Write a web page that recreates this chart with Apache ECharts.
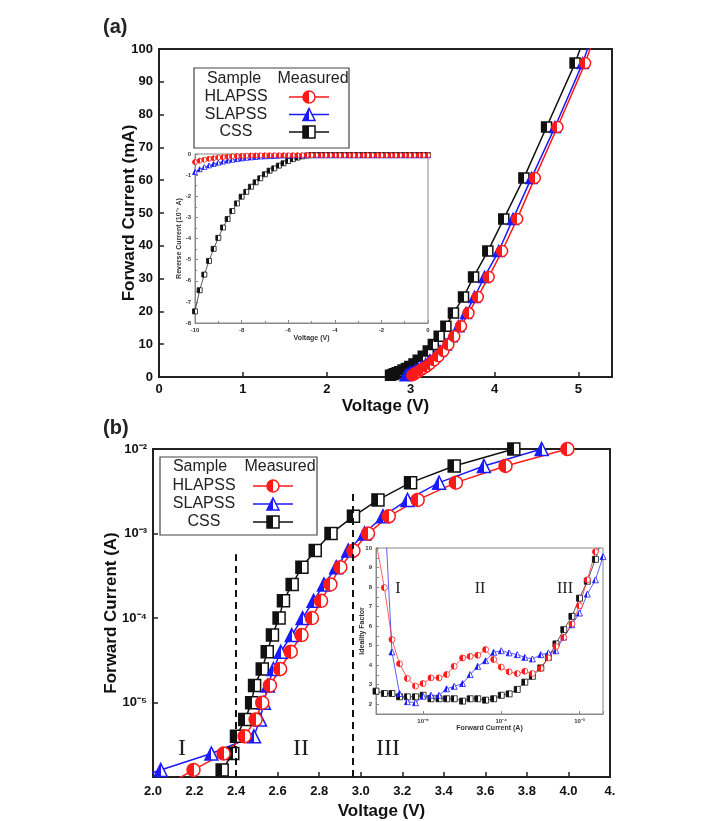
<!DOCTYPE html>
<html>
<head>
<meta charset="utf-8">
<script src="https://cdn.jsdelivr.net/npm/echarts@6/dist/echarts.min.js"></script>
<style>
html,body{margin:0;padding:0;background:#fff}
#main{width:717px;height:821px}
</style>
</head>
<body>
<div id="main"></div>
<script>
// ---- (a) forward I-V, linear (mA) ----
var curA  = [0.5,0.8,1.0,1.3,1.6,2.1,2.6,3.2,4.0,5.1,6.3,7.9,9.9,12.4,15.5,19.5,24.4,30.5,38.4,48.2,60.7,76.2,95.7,120];
var vCssA = [2.76,2.79,2.81,2.84,2.87,2.91,2.95,2.99,3.04,3.09,3.15,3.21,3.27,3.34,3.42,3.51,3.63,3.75,3.92,4.11,4.35,4.62,4.96,5.30];
var vSlaA = [2.94,2.96,2.98,3.00,3.03,3.06,3.09,3.13,3.18,3.23,3.29,3.35,3.42,3.49,3.57,3.66,3.76,3.88,4.05,4.22,4.44,4.72,5.05,5.38];
var vHlaA = [3.02,3.04,3.05,3.07,3.09,3.12,3.15,3.19,3.23,3.28,3.33,3.39,3.45,3.52,3.60,3.69,3.80,3.93,4.09,4.27,4.48,4.75,5.08,5.41];

// ---- (a) inset: reverse current (1e-7 A) ----
var vRev = [-10,-9.8,-9.6,-9.4,-9.2,-9,-8.8,-8.6,-8.4,-8.2,-8,-7.8,-7.6,-7.4,-7.2,-7,-6.8,-6.6,-6.4,-6.2,-6,-5.8,-5.6,-5.4,-5.2,-5,
            -4.8,-4.6,-4.4,-4.2,-4,-3.8,-3.6,-3.4,-3.2,-3,-2.8,-2.6,-2.4,-2.2,-2,-1.8,-1.6,-1.4,-1.2,-1,-0.8,-0.6,-0.4,-0.2,0];
var iRevCss = [-7.45,-6.45,-5.71,-5.06,-4.49,-3.97,-3.48,-3.08,-2.70,-2.34,-2.02,-1.79,-1.55,-1.34,-1.15,-0.96,-0.79,-0.68,-0.55,-0.44,-0.33,-0.24,-0.17,-0.11,-0.07,-0.05,
               -0.05,-0.05,-0.05,-0.05,-0.05,-0.05,-0.05,-0.05,-0.05,-0.05,-0.05,-0.05,-0.05,-0.05,-0.05,-0.05,-0.05,-0.05,-0.05,-0.05,-0.05,-0.05,-0.05,-0.05,-0.05];
var iRevSla = [-0.85,-0.72,-0.62,-0.54,-0.47,-0.41,-0.36,-0.31,-0.27,-0.24,-0.21,-0.18,-0.16,-0.14,-0.12,-0.11,-0.10,-0.09,-0.08,-0.07,-0.07,-0.06,-0.06,-0.06,-0.06,-0.06,
               -0.06,-0.06,-0.06,-0.06,-0.06,-0.06,-0.06,-0.06,-0.06,-0.06,-0.06,-0.06,-0.06,-0.06,-0.06,-0.06,-0.06,-0.06,-0.06,-0.06,-0.06,-0.06,-0.06,-0.06,-0.06];
var iRevHla = [-0.38,-0.32,-0.27,-0.23,-0.20,-0.17,-0.15,-0.13,-0.11,-0.10,-0.09,-0.08,-0.07,-0.07,-0.06,-0.06,-0.06,-0.06,-0.06,-0.06,-0.06,-0.06,-0.06,-0.06,-0.06,-0.06,
               -0.06,-0.06,-0.06,-0.06,-0.06,-0.06,-0.06,-0.06,-0.06,-0.06,-0.06,-0.06,-0.06,-0.06,-0.06,-0.06,-0.06,-0.06,-0.06,-0.06,-0.06,-0.06,-0.06,-0.06,-0.06];

// ---- (b) forward I-V, log (A) ----
var curB  = [1e-6,1.6e-6,2.5e-6,4e-6,6.3e-6,1e-5,1.6e-5,2.5e-5,4e-5,6.3e-5,1e-4,1.6e-4,2.5e-4,4e-4,6.3e-4,1e-3,1.6e-3,2.5e-3,4e-3,6.3e-3,1e-2];
var vCssB = [2.28,2.333,2.384,2.402,2.442,2.475,2.489,2.526,2.55,2.575,2.607,2.628,2.67,2.717,2.781,2.857,2.965,3.083,3.24,3.45,3.737];
var vSlaB = [1.79,2.037,2.281,2.486,2.515,2.534,2.553,2.58,2.615,2.668,2.72,2.773,2.823,2.882,2.94,3.018,3.107,3.225,3.377,3.593,3.871];
var vHlaB = [2.05,2.195,2.34,2.441,2.494,2.526,2.563,2.612,2.663,2.715,2.765,2.809,2.854,2.902,2.965,3.035,3.135,3.274,3.458,3.697,3.995];
var regionB = [2.4, 2.96];

// ---- (b) inset: ideality factor vs forward current ----
var curN = [2.5e-6,3.2e-6,4e-6,5e-6,6.3e-6,8e-6,1e-5,1.26e-5,1.6e-5,2e-5,2.5e-5,3.2e-5,4e-5,5e-5,6.3e-5,8e-5,1e-4,1.26e-4,1.6e-4,2e-4,2.5e-4,3.2e-4,4e-4,5e-4,6.3e-4,8e-4,1e-3,1.26e-3,1.6e-3,2e-3];
var nHla = [10.3,7.97,5.31,4.07,3.32,2.93,3.06,3.35,3.35,3.52,3.94,4.37,4.45,4.51,4.8,4.29,3.9,3.66,3.57,3.69,3.57,3.83,4.37,4.96,5.42,6.11,7.04,8.37,9.81,11.2];
var nSla = [15,12.3,4.68,2.55,2.13,2.08,2.41,2.46,2.46,2.79,2.92,3.06,3.52,3.94,4.23,4.66,4.74,4.63,4.54,4.4,4.32,4.54,4.63,4.74,5.44,6.07,6.67,7.64,8.37,9.56];
var nCss = [2.67,2.55,2.55,2.38,2.38,2.38,2.46,2.28,2.28,2.28,2.28,2.16,2.28,2.28,2.21,2.28,2.46,2.53,2.76,3.13,3.43,3.86,4.4,5.09,5.82,6.5,7.43,8.3,9.42,10.6];
var regionN = [6.3e-6, 4e-4];

var RED = '#ff1a1a', BLUE = '#1a1aff', BLACK = '#111';
var FONT = 'Liberation Sans, Arial, sans-serif';
var SERIF = 'Liberation Serif, DejaVu Serif, serif';

var halfFill = function(c){
	return {type:'linear', x:0, y:0, x2:1, y2:0, colorStops:[
		{offset:0, color:c},{offset:0.5, color:c},{offset:0.5, color:'#fff'},{offset:1, color:'#fff'}]};
};
var pairs = function(xs, ys){
	var out = [];
	for (var i = 0; i < xs.length; i++) out.push([xs[i], ys[i]]);
	return out;
};
var sup = function(n){
	var m = {'-':'\u207b','0':'\u2070','1':'\u00b9','2':'\u00b2','3':'\u00b3','4':'\u2074','5':'\u2075','6':'\u2076','7':'\u2077','8':'\u2078','9':'\u2079'};
	return String(n).split('').map(function(c){ return m[c]; }).join('');
};
var powLabel = function(v){
	var e = Math.log10(v), r = Math.round(e);
	if (Math.abs(e - r) > 1e-6) return '';
	return '10' + sup(r);
};
var line = function(name, color, symbol, data, gi, size, lw){
	return {
		name: name, type: 'line', xAxisIndex: gi, yAxisIndex: gi,
		data: data, symbol: symbol, symbolSize: size, clip: true,
		lineStyle: {color: color, width: lw},
		itemStyle: {color: halfFill(color), borderColor: color, borderWidth: lw < 1 ? 0.8 : 1.5},
		emphasis: {disabled: true}
	};
};

var mainAxis = function(o){
	var a = {
		type: 'value', nameLocation: 'middle', nameMoveOverlap: false,
		nameTextStyle: {fontFamily: FONT, fontSize: 17, fontWeight: 'bold', color: '#111'},
		axisLine: {onZero: false, lineStyle: {color: '#222', width: 2}},
		axisTick: {inside: true, length: 5, lineStyle: {color: '#222', width: 1.5}},
		axisLabel: {fontFamily: FONT, fontSize: 13, fontWeight: 'bold', color: '#111'},
		splitLine: {show: false}
	};
	for (var k in o) a[k] = o[k];
	return a;
};
var insetAxis = function(o){
	var a = {
		type: 'value', nameLocation: 'middle', nameMoveOverlap: false,
		nameTextStyle: {fontFamily: FONT, fontSize: 7, fontWeight: 'bold', color: '#333'},
		axisLine: {onZero: false, lineStyle: {color: '#888', width: 1}},
		axisTick: {inside: true, length: 3, lineStyle: {color: '#888'}},
		axisLabel: {fontFamily: FONT, fontSize: 6, fontWeight: 'bold', color: '#333', margin: 4},
		splitLine: {show: false}
	};
	for (var k in o) a[k] = o[k];
	return a;
};

var legendItems = function(){
	return [
		{name: 'HLAPSS', itemStyle: {color: halfFill(RED), borderColor: RED, borderWidth: 1.5}, lineStyle: {color: RED, width: 1.5}},
		{name: 'SLAPSS', itemStyle: {color: halfFill(BLUE), borderColor: BLUE, borderWidth: 1.5}, lineStyle: {color: BLUE, width: 1.5}},
		{name: 'CSS', itemStyle: {color: halfFill(BLACK), borderColor: BLACK, borderWidth: 1.5}, lineStyle: {color: BLACK, width: 1.5}}
	];
};
var legendOf = function(left, top, w, gap){
	return {
		data: legendItems(), orient: 'vertical', align: 'right',
		left: left, top: top, padding: 0, itemWidth: 40, itemHeight: 15, itemGap: gap,
		selectedMode: false,
		formatter: function(n){ return '{n|' + n + '}'; },
		textStyle: {rich: {n: {width: w, align: 'center', fontFamily: FONT, fontSize: 16, lineHeight: 18, color: '#222'}}}
	};
};

var txt = function(x, y, s, size, font, align, weight){
	return {type: 'text', x: x, y: y, style: {text: s, fontFamily: font || FONT, fontSize: size,
		fontWeight: weight || 'normal', fill: '#222', align: align || 'center', verticalAlign: 'middle'}};
};

var myChart = echarts.init(document.getElementById('main'));
var option = {
	animation: false,
	backgroundColor: '#fff',
	grid: [
		{left: 159, top: 49, width: 453, height: 328, show: true, borderColor: '#222', borderWidth: 2},
		{left: 195, top: 154, width: 233, height: 169, show: true, backgroundColor: '#fff', borderColor: '#888', borderWidth: 1},
		{left: 153, top: 449, width: 457, height: 331, show: true, borderColor: '#222', borderWidth: 2},
		{left: 376, top: 548, width: 227, height: 166, show: true, backgroundColor: '#fff', borderColor: '#888', borderWidth: 1}
	],
	xAxis: [
		mainAxis({gridIndex: 0, min: 0, max: 5.4, interval: 1, name: 'Voltage (V)', nameGap: 21,
			axisLabel: {fontFamily: FONT, fontSize: 13, fontWeight: 'bold', color: '#111', margin: 6, showMaxLabel: false}}),
		insetAxis({gridIndex: 1, min: -10, max: 0, interval: 2, name: 'Voltage (V)', nameGap: 12,
			minorTick: {show: true, splitNumber: 2, length: 2, lineStyle: {color: '#888'}}}),
		mainAxis({gridIndex: 2, min: 2.0, max: 4.2, interval: 0.2, name: 'Voltage (V)', nameGap: 26,
			axisLabel: {fontFamily: FONT, fontSize: 13, fontWeight: 'bold', color: '#111', margin: 8,
				formatter: function(v){ var s = v.toFixed(1); return s === '4.2' ? '4.' : s; }}}),
		insetAxis({gridIndex: 3, type: 'log', logBase: 10, min: 2.5e-6, max: 2e-3, name: 'Forward Current (A)', nameGap: 11,
			axisLabel: {fontFamily: FONT, fontSize: 6, fontWeight: 'bold', color: '#333', margin: 4, formatter: powLabel}})
	],
	yAxis: [
		mainAxis({gridIndex: 0, min: 0, max: 100, interval: 10, name: 'Forward Current (mA)', nameGap: 21,
			axisLabel: {fontFamily: FONT, fontSize: 13, fontWeight: 'bold', color: '#111', margin: 6}}),
		insetAxis({gridIndex: 1, min: -8, max: 0, interval: 1, name: 'Reverse Current (10\u207b\u2077 A)', nameGap: 12,
			minorTick: {show: true, splitNumber: 2, length: 2, lineStyle: {color: '#888'}}}),
		mainAxis({gridIndex: 2, type: 'log', logBase: 10, min: 1.32e-6, max: 1e-2, name: 'Forward Current (A)', nameGap: 33,
			axisLabel: {fontFamily: FONT, fontSize: 13, fontWeight: 'bold', color: '#111', margin: 6, formatter: powLabel}}),
		insetAxis({gridIndex: 3, min: 1.5, max: 10, interval: 0.5, name: 'Ideality Factor', nameGap: 10,
			axisLabel: {fontFamily: FONT, fontSize: 6, fontWeight: 'bold', color: '#333', margin: 4,
				formatter: function(v){ return Math.abs(v - Math.round(v)) < 1e-6 ? String(Math.round(v)) : ''; }}})
	],
	legend: [legendOf(188, 89, 96, 1.5), legendOf(160, 478, 88, 2)],
	series: [
		line('CSS', BLACK, 'rect', pairs(vCssA, curA), 0, 10, 1.5),
		line('SLAPSS', BLUE, 'triangle', pairs(vSlaA, curA), 0, 11, 1.5),
		line('HLAPSS', RED, 'circle', pairs(vHlaA, curA), 0, 11, 1.5),

		line('CSS', BLACK, 'rect', pairs(vRev, iRevCss), 1, 5, 0.7),
		line('SLAPSS', BLUE, 'triangle', pairs(vRev, iRevSla), 1, 5, 0.7),
		line('HLAPSS', RED, 'circle', pairs(vRev, iRevHla), 1, 5, 0.7),

		(function(){
			var s = line('CSS', BLACK, 'rect', pairs(vCssB, curB), 2, 12, 1.5);
			s.markLine = {
				silent: true, symbol: ['none', 'none'], label: {show: false},
				lineStyle: {color: '#111', type: [7, 5], width: 2},
				data: [
					[{coord: [regionB[0], 1.32e-6]}, {coord: [regionB[0], 5.7e-4]}],
					[{coord: [regionB[1], 1.32e-6]}, {coord: [regionB[1], 3e-3]}]
				]
			};
			return s;
		})(),
		line('SLAPSS', BLUE, 'triangle', pairs(vSlaB, curB), 2, 13, 1.5),
		line('HLAPSS', RED, 'circle', pairs(vHlaB, curB), 2, 13, 1.5),

		(function(){
			var s = line('CSS', BLACK, 'rect', pairs(curN, nCss), 3, 6, 0.7);
			s.markLine = {
				silent: true, symbol: ['none', 'none'], label: {show: false},
				lineStyle: {color: '#777', type: [2, 2], width: 1},
				data: [{xAxis: regionN[0]}, {xAxis: regionN[1]}]
			};
			return s;
		})(),
		line('SLAPSS', BLUE, 'triangle', pairs(curN, nSla), 3, 6, 0.7),
		line('HLAPSS', RED, 'circle', pairs(curN, nHla), 3, 6, 0.7)
	],
	graphic: [
		txt(103, 27, '(a)', 20, FONT, 'left', 'bold'),
		txt(103, 428, '(b)', 20, FONT, 'left', 'bold'),
		{type: 'rect', shape: {x: 194, y: 68, width: 155, height: 80}, style: {fill: 'none', stroke: '#444', lineWidth: 1.2}},
		txt(234, 79, 'Sample', 16),
		txt(313, 79, 'Measured', 16),
		{type: 'rect', shape: {x: 160, y: 457, width: 157, height: 78}, style: {fill: 'none', stroke: '#444', lineWidth: 1.2}},
		txt(200, 467, 'Sample', 16),
		txt(280, 467, 'Measured', 16),
		txt(182, 749, 'I', 24, SERIF),
		txt(301, 749, 'II', 24, SERIF),
		txt(388, 749, 'III', 24, SERIF),
		txt(398, 589, 'I', 16, SERIF),
		txt(480, 589, 'II', 16, SERIF),
		txt(565, 589, 'III', 16, SERIF)
	]
};
myChart.setOption(option);
window.onresize = function(){
	myChart.resize();
};
</script>
</body>
</html>
